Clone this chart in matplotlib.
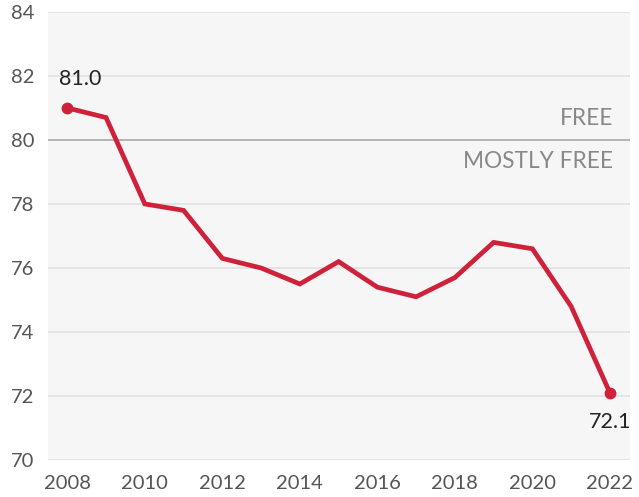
import matplotlib
matplotlib.use("Agg")
import matplotlib.pyplot as plt

years = [2008, 2009, 2010, 2011, 2012, 2013, 2014, 2015, 2016, 2017, 2018, 2019, 2020, 2021, 2022]
scores = [81.0, 80.7, 78.0, 77.8, 76.3, 76.0, 75.5, 76.2, 75.4, 75.1, 75.7, 76.8, 76.6, 74.8, 72.1]
yticks = [70, 72, 74, 76, 78, 80, 82, 84]
xticks = [2008, 2010, 2012, 2014, 2016, 2018, 2020, 2022]
threshold = 80
label_above = "FREE"
label_below = "MOSTLY FREE"

plt.rcParams['font.family'] = ['Lato', 'DejaVu Sans']
red = "#d0213a"

fig = plt.figure(figsize=(6.39, 4.97), dpi=100)
ax = fig.add_axes([0.075, 0.0744, 0.911, 0.9016])
ax.set_facecolor("#f6f6f6")
ax.set_xlim(2007.5, 2022.52)
ax.set_ylim(70, 84)
for s in ax.spines.values():
    s.set_visible(False)

for y in yticks:
    if y == threshold:
        continue
    ax.axhline(y, color="#e3e3e3", lw=1.3, zorder=1)
ax.axhline(threshold, color="#a8a8a8", lw=1.2, zorder=2)

ax.plot(years, scores, color=red, lw=3.4, zorder=3, solid_joinstyle='miter')
ax.plot([years[0], years[-1]], [scores[0], scores[-1]], 'o', color=red, ms=7.5, zorder=4)

ax.annotate(f"{scores[0]:.1f}", (years[0], scores[0]), xytext=(-6, 14), textcoords='offset points',
            ha='left', va='bottom', fontsize=15.5, color="#222222")
ax.annotate(f"{scores[-1]:.1f}", (years[-1], scores[-1]), xytext=(0, -14), textcoords='offset points',
            ha='center', va='top', fontsize=15.5, color="#222222")

ax.text(0.971, threshold + 0.35, label_above, transform=ax.get_yaxis_transform(), ha='right', va='bottom',
        fontsize=16.3, color="#888888")
ax.text(0.971, threshold - 0.35, label_below, transform=ax.get_yaxis_transform(), ha='right', va='top',
        fontsize=16.3, color="#888888")

ax.set_yticks(yticks)
ax.set_xticks(xticks)
ax.tick_params(length=0, labelsize=14.5, labelcolor="#555555")
ax.tick_params(axis='y', pad=10)
ax.tick_params(axis='x', pad=11)

fig.savefig("out.png", dpi=100)
